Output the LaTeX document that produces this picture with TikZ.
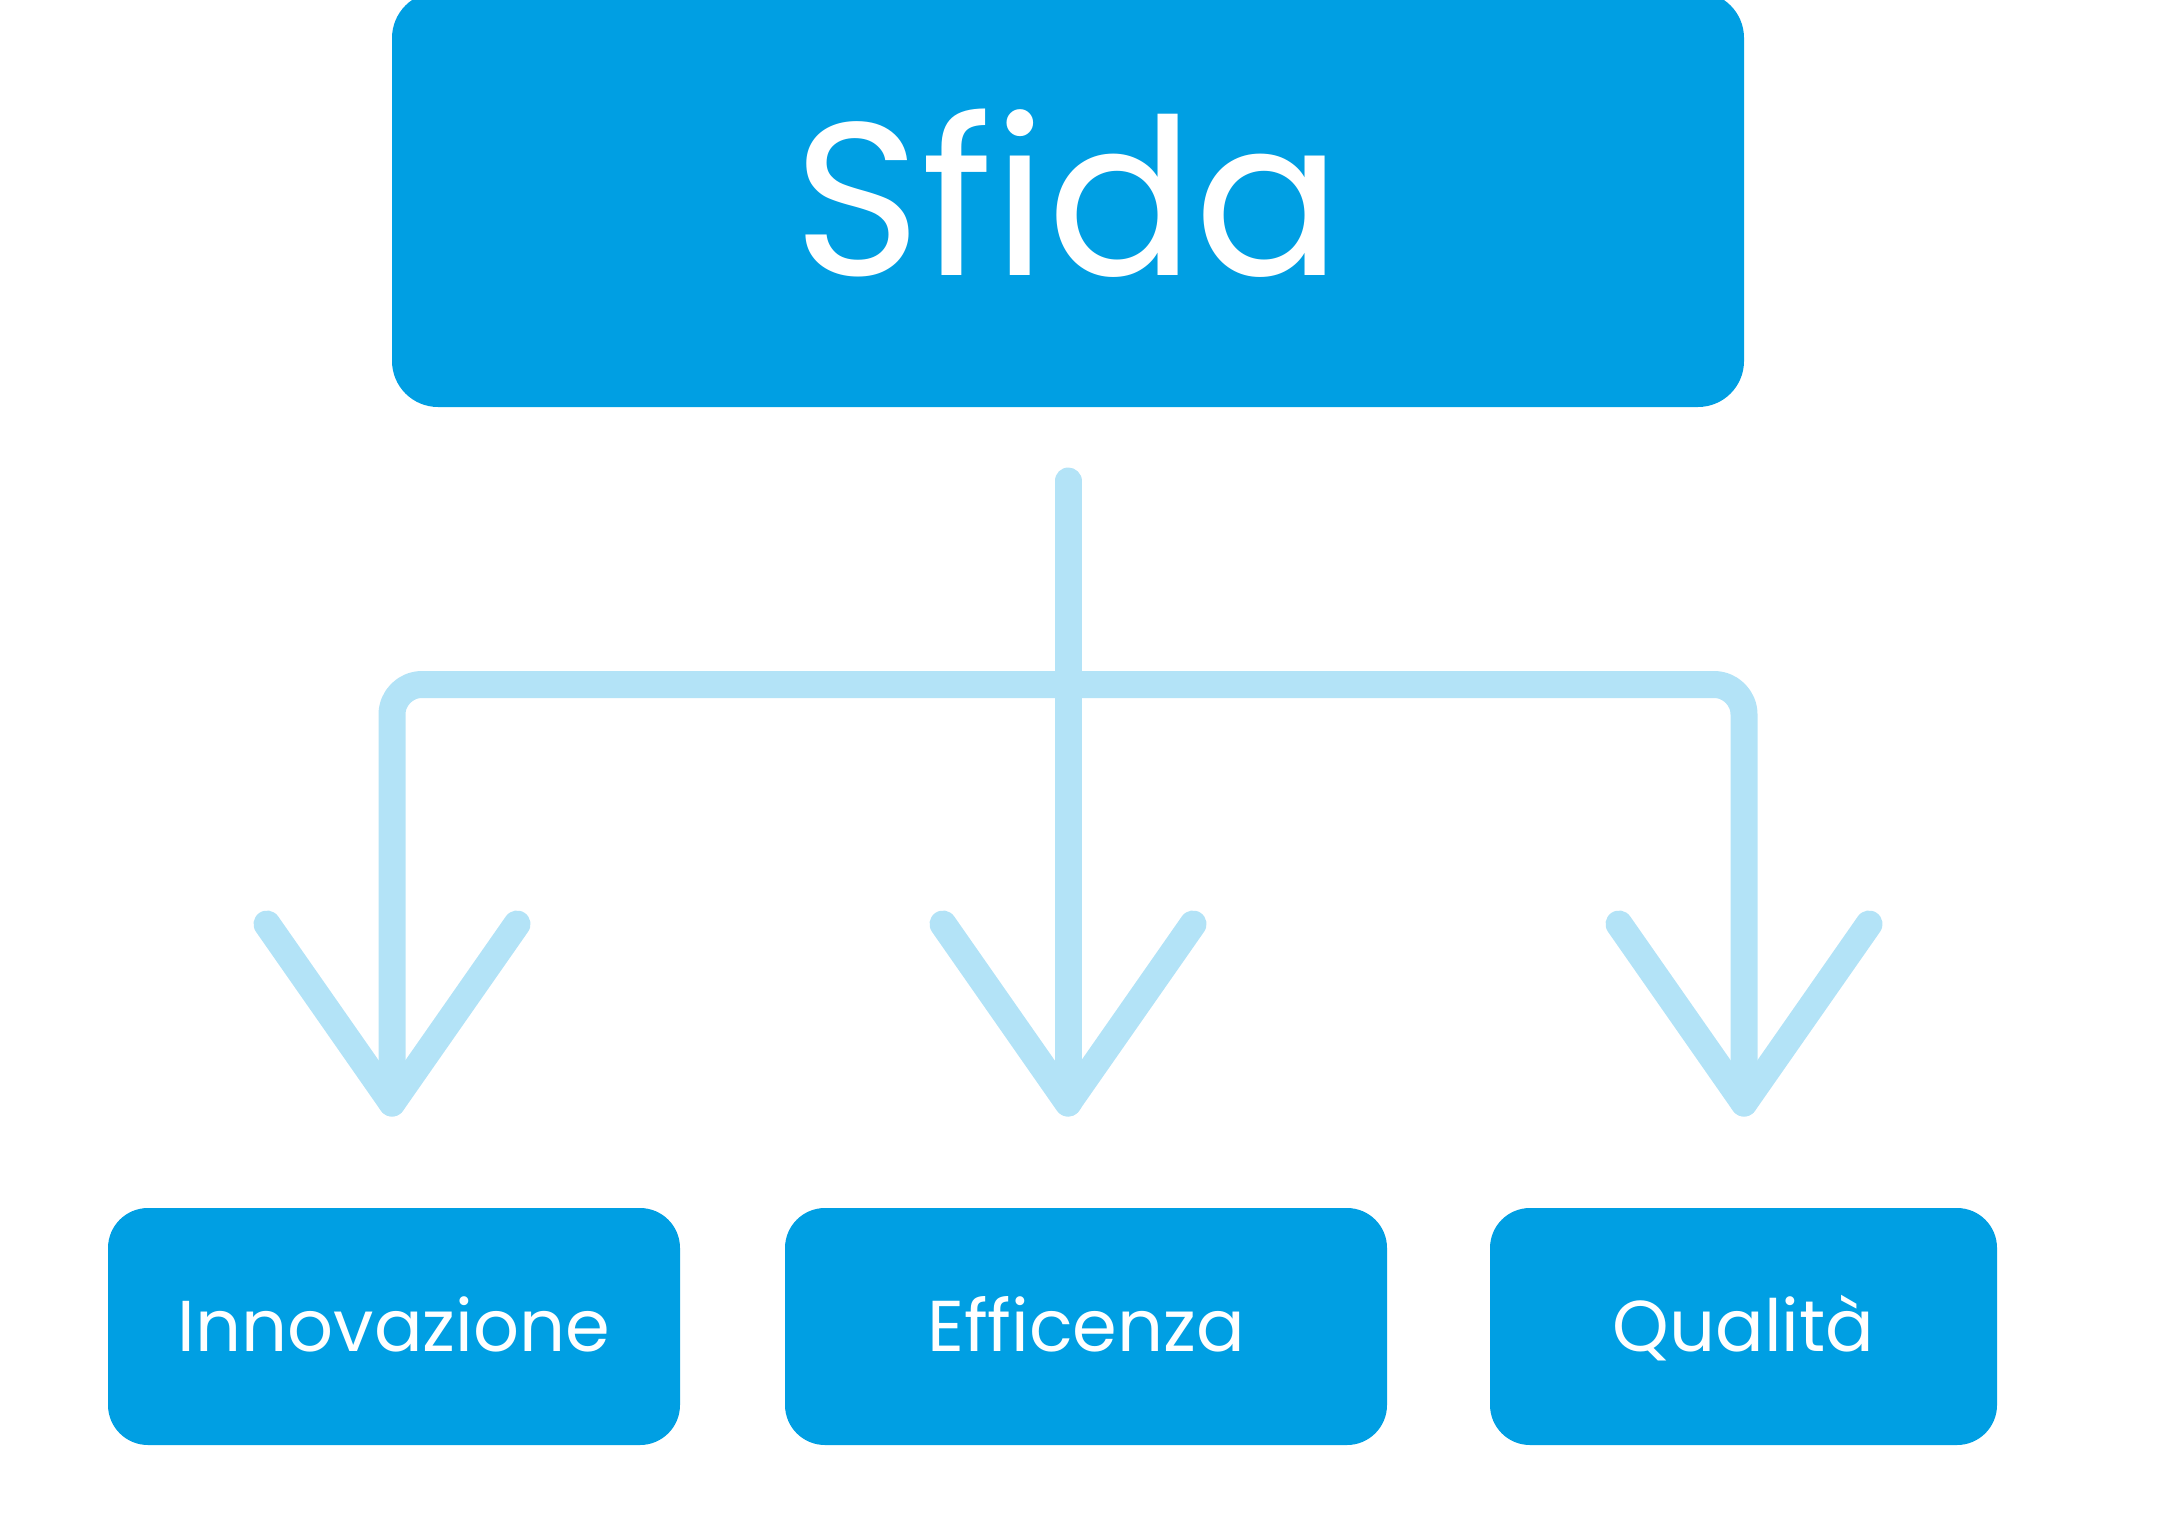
\documentclass[tikz,border=0pt]{standalone}
\usepackage{fontspec}
\setmainfont{Poppins}[Ligatures=NoCommon]
\usetikzlibrary{positioning}
\definecolor{sfidablue}{HTML}{009FE3}
\definecolor{rami}{HTML}{B3E3F7}

\begin{document}
\begin{tikzpicture}[x=0.5pt,y=-0.5pt,
    box/.style={fill=sfidablue,text=white,inner sep=0pt,rounded corners=20pt,
      minimum height=118.5pt,text height=25pt,text depth=0pt,
      font=\fontsize{36}{36}\selectfont},
    ramo/.style={draw=rami,line width=13.5pt,line cap=round,line join=round}]
  \useasboundingbox (0,0) rectangle (2171,1519);

  \node[box,minimum width=676pt,minimum height=207.5pt,rounded corners=23pt,
    text height=76pt,font=\fontsize{109}{109}\selectfont] (sfida) at (1068,199.5) {Sfida};

  \node[box,minimum width=286pt] (innovazione) at (394,1326.5) {Innovazione};
  \node[box,minimum width=301pt] (efficenza) at (1086,1326.5) {Efficenza};
  \node[box,minimum width=253.5pt] (qualita) at (1743.5,1326.5) {Qualità};

  \coordinate (radice) at (1068,481);
  \coordinate (snodo) at (1068,684.5);
  \coordinate (puntaA) at (392,1103);
  \coordinate (puntaB) at (1068,1103);
  \coordinate (puntaC) at (1744,1103);

  \draw[ramo] (radice) -- (puntaB);
  \draw[ramo,rounded corners=15pt] (puntaA) -- (puntaA |- snodo) -- (puntaC |- snodo) -- (puntaC);
  \foreach \p in {puntaA,puntaB,puntaC}
    \draw[ramo] (\p) ++(-125,-179) -- (\p) -- ++(125,-179);
\end{tikzpicture}
\end{document}
